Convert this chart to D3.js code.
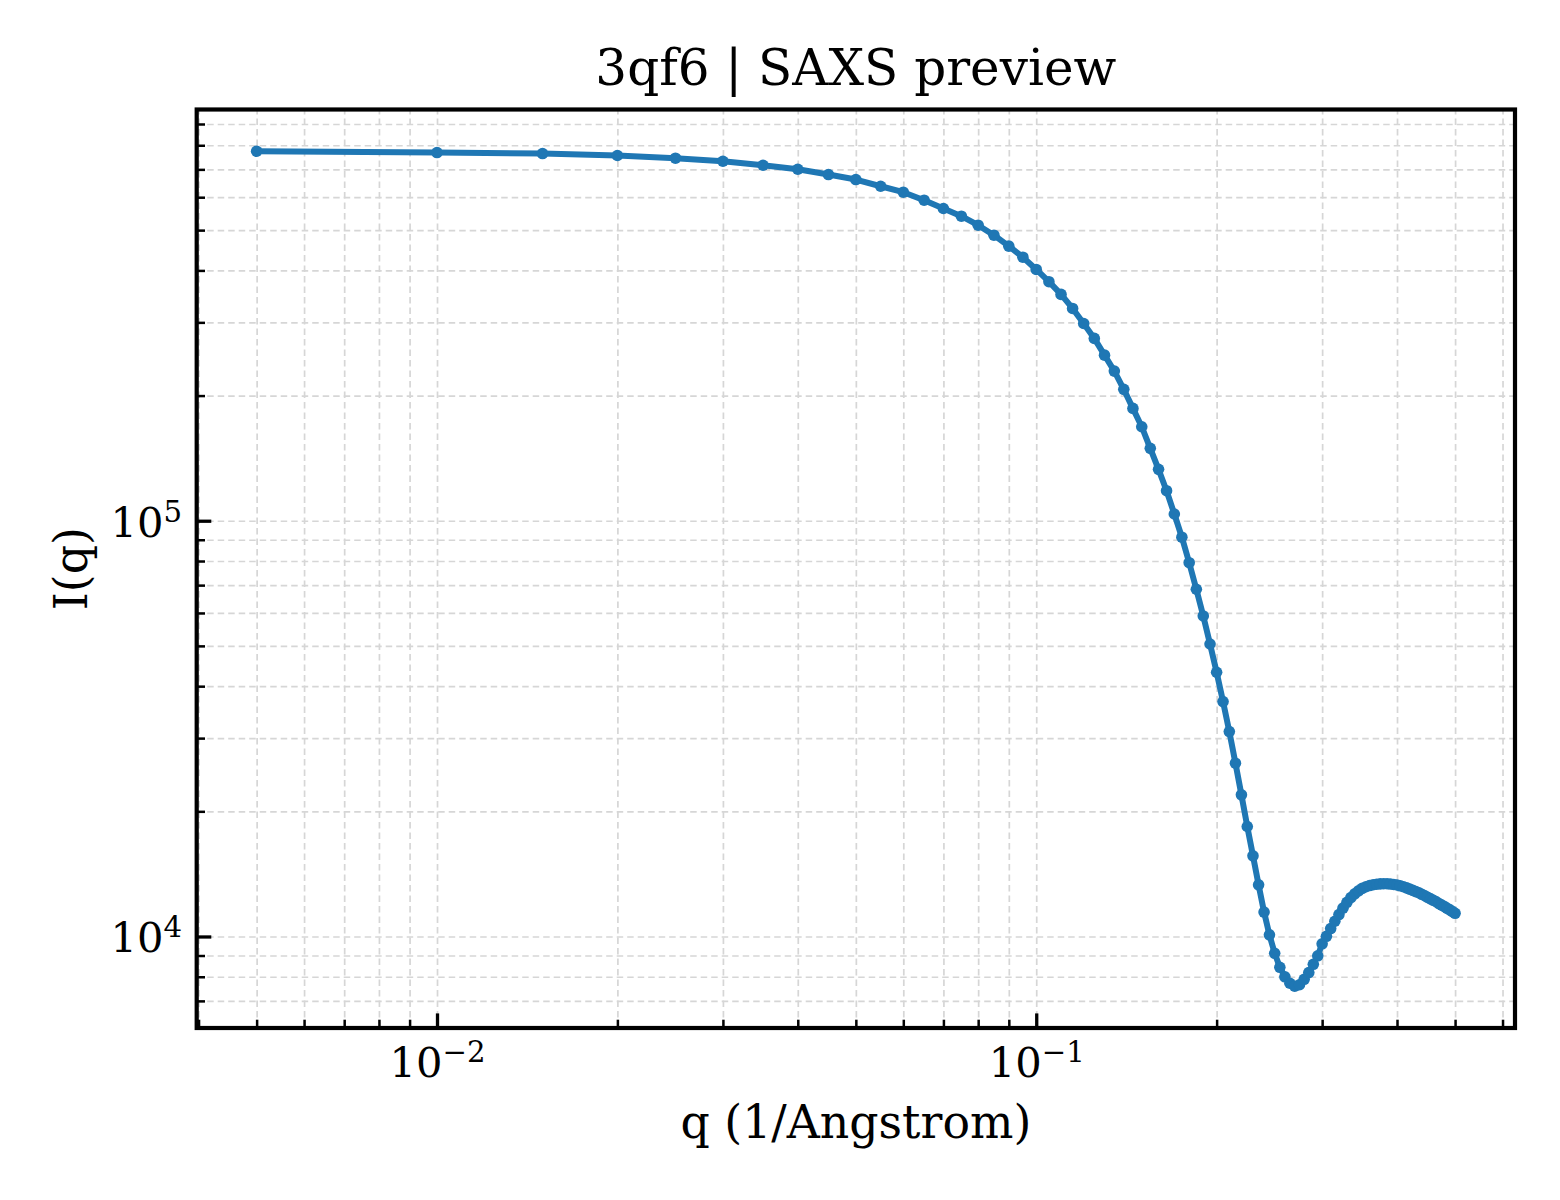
<!DOCTYPE html>
<html><head><meta charset="utf-8">
<script src="https://cdn.jsdelivr.net/npm/d3@7"></script>
<style>
html,body{margin:0;padding:0;background:#fff;}
svg{display:block;font-family:"DejaVu Serif",serif;}
</style></head><body>
<svg id="chart" width="1560" height="1200"></svg>
<script>
// ---- data ----
const qValues = [
  0.005, 0.010, 0.015, 0.020, 0.025, 0.030, 0.035, 0.040, 0.045, 0.050,
  0.055, 0.060, 0.065, 0.070, 0.075, 0.080, 0.085, 0.090, 0.095, 0.100,
  0.105, 0.110, 0.115, 0.120, 0.125, 0.130, 0.135, 0.140, 0.145, 0.150,
  0.155, 0.160, 0.165, 0.170, 0.175, 0.180, 0.185, 0.190, 0.195, 0.200,
  0.205, 0.210, 0.215, 0.220, 0.225, 0.230, 0.235, 0.240, 0.245, 0.250,
  0.255, 0.260, 0.265, 0.270, 0.275, 0.280, 0.285, 0.290, 0.295, 0.300,
  0.305, 0.310, 0.315, 0.320, 0.325, 0.330, 0.335, 0.340, 0.345, 0.350,
  0.355, 0.360, 0.365, 0.370, 0.375, 0.380, 0.385, 0.390, 0.395, 0.400,
  0.405, 0.410, 0.415, 0.420, 0.425, 0.430, 0.435, 0.440, 0.445, 0.450,
  0.455, 0.460, 0.465, 0.470, 0.475, 0.480, 0.485, 0.490, 0.495, 0.500
];
const intensity = [
  773900, 768400, 764200, 755800, 744600, 732300, 716200, 700500, 680300, 661700,
  637600, 616800, 590100, 563600, 540100, 513800, 486200, 457500, 430400, 402200,
  375800, 350200, 324000, 298100, 274500, 250200, 229000, 207000, 186300, 168300,
  149300, 132900, 118100, 103800, 91280, 79250, 68420, 59010, 50530, 43210,
  36720, 31100, 26110, 21910, 18390, 15630, 13310, 11450, 10090, 9112,
  8432, 8000, 7718, 7591, 7654, 7890, 8188, 8573, 8986, 9604,
  10010, 10450, 10880, 11290, 11700, 12080, 12400, 12660, 12880, 13050,
  13170, 13260, 13320, 13360, 13380, 13390, 13390, 13370, 13340, 13300,
  13240, 13170, 13090, 13000, 12910, 12820, 12740, 12630, 12530, 12420,
  12320, 12220, 12120, 12000, 11900, 11800, 11690, 11590, 11480, 11370
];
const xMajorExponents = [-2, -1];
const yMajorExponents = [4, 5];
const titleText = "3qf6 | SAXS preview";
const xLabelText = "q (1/Angstrom)";
const yLabelText = "I(q)";

// ---- layout ----
const box = {left: 196.7, top: 109.5, right: 1515, bottom: 1028};
const W = box.right - box.left, H = box.bottom - box.top;
const tickFont = 41.67, supFont = 29.2, supRaise = 15;
const majorLen = 14.6, minorLen = 8.3, pad = 14.6;

function logPadded(ext) {
  const a = Math.log10(ext[0]), b = Math.log10(ext[1]);
  const m = (b - a) * 0.05;
  return [Math.pow(10, a - m), Math.pow(10, b + m)];
}
const x = d3.scaleLog().domain(logPadded(d3.extent(qValues))).range([0, W]);
const y = d3.scaleLog().domain(logPadded(d3.extent(intensity))).range([H, 0]);

const isMajor = t => Math.abs(Math.log10(t) - Math.round(Math.log10(t))) < 1e-9;
const xAllTicks = x.ticks();
const yAllTicks = y.ticks();
const xMajor = xMajorExponents.map(e => Math.pow(10, e));
const yMajor = yMajorExponents.map(e => Math.pow(10, e));
const xMinor = xAllTicks.filter(t => !isMajor(t));
const yMinor = yAllTicks.filter(t => !isMajor(t));

const svg = d3.select("#chart");
svg.append("rect").attr("width", 1560).attr("height", 1200).attr("fill", "#fff");
const g = svg.append("g").attr("transform", `translate(${box.left},${box.top})`);

// ---- grid ----
function styleGrid(sel) {
  sel.select(".domain").remove();
  sel.selectAll(".tick text").remove();
  sel.selectAll(".tick line")
    .attr("stroke", "#d6d6d6").attr("stroke-width", 1.7)
    .attr("stroke-dasharray", "6.5,4");
}
g.append("g").attr("transform", `translate(0,${H})`)
  .call(d3.axisBottom(x).tickValues(xAllTicks).tickSize(-H).tickFormat(""))
  .call(styleGrid);
g.append("g")
  .call(d3.axisLeft(y).tickValues(yAllTicks).tickSize(-W).tickFormat(""))
  .call(styleGrid);

// ---- data ----
const pts = qValues.map((q, i) => ({q, I: intensity[i]}));
g.append("path").datum(pts)
  .attr("d", d3.line().x(d => x(d.q)).y(d => y(d.I)))
  .attr("fill", "none").attr("stroke", "#1f77b4")
  .attr("stroke-width", 6).attr("stroke-linejoin", "round");
g.selectAll("circle.pt").data(pts).join("circle")
  .attr("class", "pt")
  .attr("cx", d => x(d.q)).attr("cy", d => y(d.I))
  .attr("r", 5.8).attr("fill", "#1f77b4");

// ---- ticks ----
function supLabel(textSel, d) {
  const e = Math.round(Math.log10(d));
  textSel.text(null);
  textSel.append("tspan").text("10");
  textSel.append("tspan").attr("dy", -supRaise).attr("font-size", supFont)
    .text((e < 0 ? "\u2212" : "") + Math.abs(e));
}
function fontFix(s) {
  s.attr("font-family", "DejaVu Serif").attr("font-size", tickFont);
}
// x minor
g.append("g").attr("transform", `translate(0,${H})`)
  .call(d3.axisBottom(x).tickValues(xMinor).tickSizeInner(-minorLen).tickSizeOuter(0).tickFormat(""))
  .call(s => { s.select(".domain").remove(); s.selectAll(".tick text").remove();
               s.selectAll(".tick line").attr("stroke", "#000").attr("stroke-width", 2.5); });
// x major
g.append("g").attr("transform", `translate(0,${H})`)
  .call(d3.axisBottom(x).tickValues(xMajor).tickSizeInner(-majorLen).tickSizeOuter(0).tickPadding(pad))
  .call(fontFix)
  .call(s => { s.select(".domain").remove();
               s.selectAll(".tick line").attr("stroke", "#000").attr("stroke-width", 3.3);
               s.selectAll(".tick text").each(function(d) {
                 const t = d3.select(this).attr("y", 49).attr("dy", null)
                   .attr("text-anchor", "middle").attr("fill", "#000");
                 supLabel(t, d);
               }); });
// y minor
g.append("g")
  .call(d3.axisLeft(y).tickValues(yMinor).tickSizeInner(-minorLen).tickSizeOuter(0).tickFormat(""))
  .call(s => { s.select(".domain").remove(); s.selectAll(".tick text").remove();
               s.selectAll(".tick line").attr("stroke", "#000").attr("stroke-width", 2.5); });
// y major
g.append("g")
  .call(d3.axisLeft(y).tickValues(yMajor).tickSizeInner(-majorLen).tickSizeOuter(0).tickPadding(pad))
  .call(fontFix)
  .call(s => { s.select(".domain").remove();
               s.selectAll(".tick line").attr("stroke", "#000").attr("stroke-width", 3.3);
               s.selectAll(".tick text").each(function(d) {
                 const t = d3.select(this).attr("x", -pad).attr("y", 15.5).attr("dy", null)
                   .attr("text-anchor", "end").attr("fill", "#000");
                 supLabel(t, d);
               }); });

// ---- frame ----
g.append("rect").attr("width", W).attr("height", H)
  .attr("fill", "none").attr("stroke", "#000").attr("stroke-width", 4.2);

// ---- titles ----
svg.append("text").attr("x", box.left + W / 2).attr("y", 85)
  .attr("text-anchor", "middle").attr("font-size", 50).attr("fill", "#000")
  .text(titleText);
svg.append("text").attr("x", box.left + W / 2).attr("y", 1138)
  .attr("text-anchor", "middle").attr("font-size", 45.8).attr("fill", "#000")
  .text(xLabelText);
svg.append("text").attr("transform", `translate(87,${box.top + H / 2}) rotate(-90)`)
  .attr("text-anchor", "middle").attr("font-size", 45.8).attr("fill", "#000")
  .text(yLabelText);
</script>
</body></html>
